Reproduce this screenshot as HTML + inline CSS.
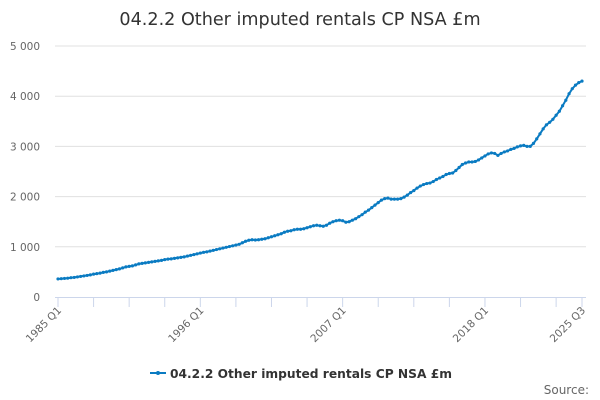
<!DOCTYPE html>
<html><head><meta charset="utf-8"><style>
body{margin:0;background:#fff;font-family:"DejaVu Sans",sans-serif}
svg{display:block}
</style></head><body>
<svg width="600" height="400" id="c" font-family="DejaVu Sans, sans-serif">
<text x="300" y="25" text-anchor="middle" font-size="17.6" fill="#333">04.2.2 Other imputed rentals CP NSA £m</text>
<g id="grid"></g><g id="xa"></g><g id="series"></g>
<g>
<line x1="150" y1="373" x2="166" y2="373" stroke="#0a7bc2" stroke-width="2"/>
<circle cx="158" cy="373" r="2" fill="#0a7bc2"/>
<text x="170" y="378" font-size="12.5" font-weight="bold" fill="#333" textLength="282" lengthAdjust="spacingAndGlyphs">04.2.2 Other imputed rentals CP NSA £m</text>
</g>
<text x="589" y="394" text-anchor="end" font-size="12" fill="#666">Source:</text>
</svg>
<script>
const yTicks=[0,1000,2000,3000,4000,5000];
const yTickLabels=["0","1 000","2 000","3 000","4 000","5 000"];
const xLabelIdx=[0,44,88,132,162];
const xLabels=["1985 Q1","1996 Q1","2007 Q1","2018 Q1","2025 Q3"];
const values=[360,365,370,375,385,390,400,410,420,430,440,455,465,475,490,500,515,530,545,560,
580,600,610,620,640,660,670,680,690,700,710,720,730,745,755,760,770,780,790,800,
815,830,845,860,875,890,900,915,930,945,960,975,990,1005,1020,1035,1050,1080,1110,1130,
1140,1135,1140,1150,1160,1180,1200,1220,1240,1260,1290,1310,1320,1340,1350,1350,1360,1380,1400,1420,
1430,1420,1410,1430,1470,1500,1520,1530,1520,1490,1500,1530,1560,1600,1640,1690,1730,1780,1830,1880,
1930,1960,1970,1950,1950,1950,1960,1990,2030,2080,2120,2170,2210,2240,2260,2270,2300,2340,2370,2400,
2440,2460,2470,2520,2580,2640,2670,2690,2690,2700,2730,2770,2810,2850,2870,2860,2820,2860,2890,2910,
2940,2960,2990,3010,3020,3000,3000,3060,3150,3250,3350,3430,3480,3540,3620,3700,3810,3920,4050,4150,
4220,4270,4300];
const NS='http://www.w3.org/2000/svg';
const X0=58,X1=582,Y0=297,Y1=46;
const xs=i=>X0+(X1-X0)*i/(values.length-1);
const ys=v=>Y0-(Y0-Y1)*v/5000;
function mk(t,a,p){const e=document.createElementNS(NS,t);for(const k in a)e.setAttribute(k,a[k]);p.appendChild(e);return e;}
const g=document.getElementById('grid');
yTicks.forEach((v,i)=>{
 if(i>0){const l=mk('line',{x1:X0-3,x2:X1+4,y1:ys(v),y2:ys(v),stroke:'#e0e0e0'},g);
 
 }
 const t=mk('text',{x:40,y:ys(v)+4,'text-anchor':'end','font-size':10.5,fill:'#666'},g);
 t.textContent=yTickLabels[i];
 
 
});
const xa=document.getElementById('xa');
const ax=mk('line',{x1:X0-3,x2:X1+4,y1:Y0+0.5,y2:Y0+0.5,stroke:'#ccd6eb'},xa);


for(let i=0;i<values.length;i+=11){mk('line',{x1:xs(i),x2:xs(i),y1:Y0,y2:Y0+10,stroke:'#ccd6eb'},xa);}
mk('line',{x1:xs(values.length-1),x2:xs(values.length-1),y1:Y0,y2:Y0+10,stroke:'#ccd6eb'},xa);
xLabelIdx.forEach((idx,i)=>{
 const x=xs(idx)+4,y=Y0+14;
 const t=mk('text',{x:x,y:y,'text-anchor':'end','font-size':10.5,fill:'#666',transform:`rotate(-45 ${x} ${y})`},xa);
 t.textContent=xLabels[i];
 
 
});
const s=document.getElementById('series');
const pts=values.map((v,i)=>xs(i).toFixed(1)+','+ys(v).toFixed(1)).join(' ');
const pl=mk('polyline',{points:pts,fill:'none',stroke:'#0a7bc2','stroke-width':2},s);


values.forEach((v,i)=>{
 const c=mk('circle',{cx:xs(i),cy:ys(v),r:1.6,fill:'#0a7bc2'},s);
 
 
});
</script>
</body></html>
